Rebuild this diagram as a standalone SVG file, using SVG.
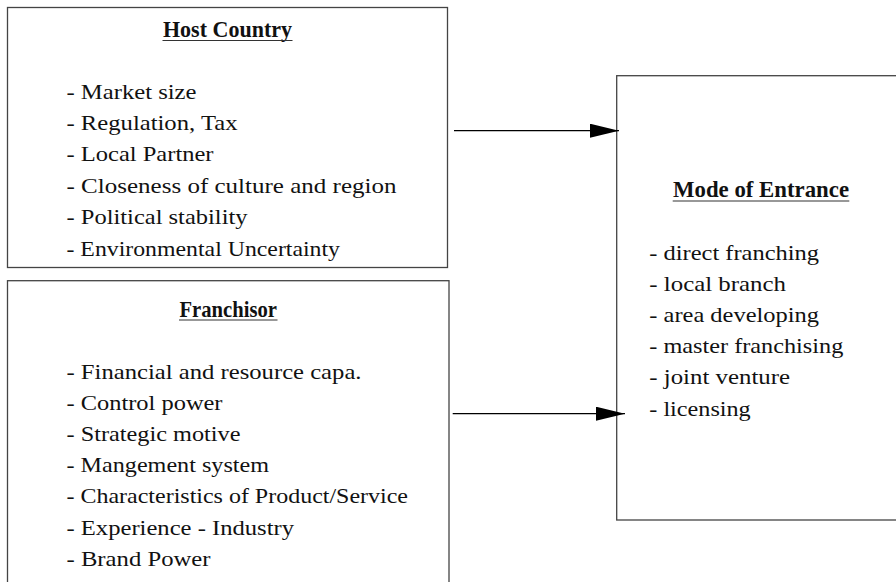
<svg xmlns="http://www.w3.org/2000/svg" width="896" height="582" viewBox="0 0 896 582">
<defs>
<style>
.box{fill:#fff;stroke:#444;stroke-width:1.3}
.t{font-family:"Liberation Serif","Times New Roman",serif;font-size:22px;fill:#111}
.h{font-family:"Liberation Serif","Times New Roman",serif;font-size:23px;font-weight:bold;fill:#111}
.ul{stroke:#333;stroke-width:1.2}
.c{stroke:#000;stroke-width:1.3;fill:none;marker-end:url(#ah)}
</style>
<marker id="ah" markerUnits="userSpaceOnUse" markerWidth="29" markerHeight="14" refX="29" refY="7" orient="auto">
<path d="M0,0 L29,7 L0,14 Z" fill="#000"/>
</marker>
</defs>
<rect width="896" height="582" fill="#fff"/>
<g id="host">
<rect class="box" x="7.5" y="7.5" width="440" height="260"/>
<text class="h" x="163" y="36.5" textLength="129" lengthAdjust="spacingAndGlyphs">Host Country</text>
<line class="ul" x1="162.5" y1="40.5" x2="292.5" y2="40.5"/>
<text class="t" x="66.5" y="98.5" textLength="130" lengthAdjust="spacingAndGlyphs">- Market  size</text>
<text class="t" x="66.5" y="130" textLength="171" lengthAdjust="spacingAndGlyphs">- Regulation,  Tax</text>
<text class="t" x="66.5" y="161" textLength="147" lengthAdjust="spacingAndGlyphs">- Local  Partner</text>
<text class="t" x="66.5" y="192.5" textLength="330" lengthAdjust="spacingAndGlyphs">- Closeness  of  culture  and  region</text>
<text class="t" x="66.5" y="224" textLength="181" lengthAdjust="spacingAndGlyphs">- Political  stability</text>
<text class="t" x="66.5" y="255.5" textLength="273.5" lengthAdjust="spacingAndGlyphs">- Environmental  Uncertainty</text>
</g>
<g id="franchisor">
<rect class="box" x="7.5" y="280.7" width="441.5" height="330"/>
<text class="h" x="179.5" y="316.5" textLength="97.5" lengthAdjust="spacingAndGlyphs">Franchisor</text>
<line class="ul" x1="179" y1="320" x2="277.5" y2="320"/>
<text class="t" x="66.5" y="379" textLength="295" lengthAdjust="spacingAndGlyphs">- Financial  and  resource  capa.</text>
<text class="t" x="66.5" y="410" textLength="156" lengthAdjust="spacingAndGlyphs">- Control  power</text>
<text class="t" x="66.5" y="441" textLength="174" lengthAdjust="spacingAndGlyphs">- Strategic  motive</text>
<text class="t" x="66.5" y="472" textLength="202.5" lengthAdjust="spacingAndGlyphs">- Mangement  system</text>
<text class="t" x="66.5" y="503.3" textLength="341.5" lengthAdjust="spacingAndGlyphs">- Characteristics  of  Product/Service</text>
<text class="t" x="66.5" y="535" textLength="227.5" lengthAdjust="spacingAndGlyphs">- Experience  -  Industry</text>
<text class="t" x="66.5" y="566" textLength="144" lengthAdjust="spacingAndGlyphs">- Brand  Power</text>
</g>
<g id="mode">
<rect class="box" x="616.7" y="75.7" width="300" height="444.3"/>
<text class="h" x="673" y="196.5" textLength="176" lengthAdjust="spacingAndGlyphs">Mode of Entrance</text>
<line class="ul" x1="672.7" y1="201" x2="849.3" y2="201"/>
<text class="t" x="649.3" y="260" textLength="169.7" lengthAdjust="spacingAndGlyphs">- direct  franching</text>
<text class="t" x="649.3" y="291" textLength="136.7" lengthAdjust="spacingAndGlyphs">- local  branch</text>
<text class="t" x="649.3" y="322.3" textLength="169.7" lengthAdjust="spacingAndGlyphs">- area  developing</text>
<text class="t" x="649.3" y="353.3" textLength="194" lengthAdjust="spacingAndGlyphs">- master  franchising</text>
<text class="t" x="649.3" y="384.3" textLength="140.7" lengthAdjust="spacingAndGlyphs">- joint  venture</text>
<text class="t" x="649.3" y="416" textLength="101.4" lengthAdjust="spacingAndGlyphs">- licensing</text>
</g>
<g id="connectors">
<line class="c" x1="454" y1="130.7" x2="619" y2="130.7"/>
<line class="c" x1="452.7" y1="413.7" x2="625" y2="413.7"/>
</g>
</svg>
